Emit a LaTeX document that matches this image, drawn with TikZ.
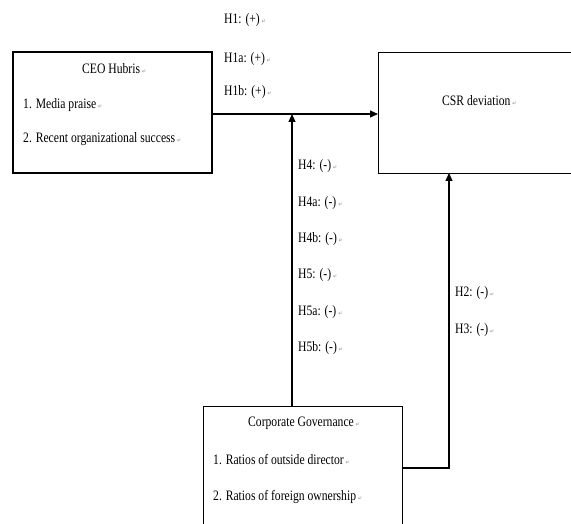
\documentclass[tikz,border=0pt]{standalone}
\usepackage{graphicx}
\usepackage{fontspec}
\setmainfont{Liberation Serif}
\newfontfamily\marksymfont{DejaVu Sans}
\usetikzlibrary{arrows.meta}
\newcommand{\pmark}{\,{\marksymfont\fontsize{5}{5}\selectfont\color{black!45}↵}}
\newcommand{\tx}[1]{\scalebox{0.97}[1.2]{#1}}
\begin{document}
\begin{tikzpicture}[x=1pt,y=-1pt,
  box/.style={draw,line width=1.2pt,rectangle,inner sep=0pt},
  lbl/.style={anchor=west,inner sep=0pt,text height=9pt,text depth=3pt,font=\fontsize{12}{14}\selectfont},
  conn/.style={line width=1.2pt},
  arr/.style={conn,-{Triangle[length=8pt,width=7pt]}}]
\useasboundingbox (0,0) rectangle (571,524);
\clip (0,0) rectangle (571,524);
% boxes
\node[box,minimum width=199pt,minimum height=121pt] (ceo) at (112.5,112.5) {};
\node[box,minimum width=240pt,minimum height=121pt,anchor=north west] (csr) at (378,52) {};
\node[box,minimum width=199pt,minimum height=140pt,anchor=north west] (cg) at (203,406) {};
% box texts
\node[lbl] (t1) at (82,71) {\tx{CEO Hubris\pmark}};
\node[lbl] (t2) at (23,106) {\tx{1. Media praise\pmark}};
\node[lbl] (t3) at (23,140) {\tx{2. Recent organizational success\pmark}};
\node[lbl] (t4) at (442,103) {\tx{CSR deviation\pmark}};
\node[lbl] (t5) at (248,423) {\tx{Corporate Governance\pmark}};
\node[lbl] (t6) at (213,461) {\tx{1. Ratios of outside director\pmark}};
\node[lbl] (t7) at (213,497) {\tx{2. Ratios of foreign ownership\pmark}};
% hypothesis labels
\node[lbl] (h1) at (224,21) {\tx{H1: (+)\pmark}};
\node[lbl] (h1a) at (224,60) {\tx{H1a: (+)\pmark}};
\node[lbl] (h1b) at (224,93) {\tx{H1b: (+)\pmark}};
\node[lbl] (h4) at (298,167) {\tx{H4: (-)\pmark}};
\node[lbl] (h4a) at (298,204) {\tx{H4a: (-)\pmark}};
\node[lbl] (h4b) at (298,240) {\tx{H4b: (-)\pmark}};
\node[lbl] (h5) at (298,276) {\tx{H5: (-)\pmark}};
\node[lbl] (h5a) at (298,312) {\tx{H5a: (-)\pmark}};
\node[lbl] (h5b) at (298,348) {\tx{H5b: (-)\pmark}};
\node[lbl] (h2) at (455,294) {\tx{H2: (-)\pmark}};
\node[lbl] (h3) at (455,331) {\tx{H3: (-)\pmark}};
% connectors
\coordinate (j) at (292,114);
\coordinate (cgtop) at (292,406);
\coordinate (cgr) at (402,468);
\coordinate (bend) at (449,468);
\coordinate (csrb) at (449,173);
\draw[arr] (ceo.east |- j) -- (csr.west |- j);
\draw[arr] (cgtop) -- (j);
\draw[arr] (cgr) -- (bend) -- (csrb);
\end{tikzpicture}
\end{document}
